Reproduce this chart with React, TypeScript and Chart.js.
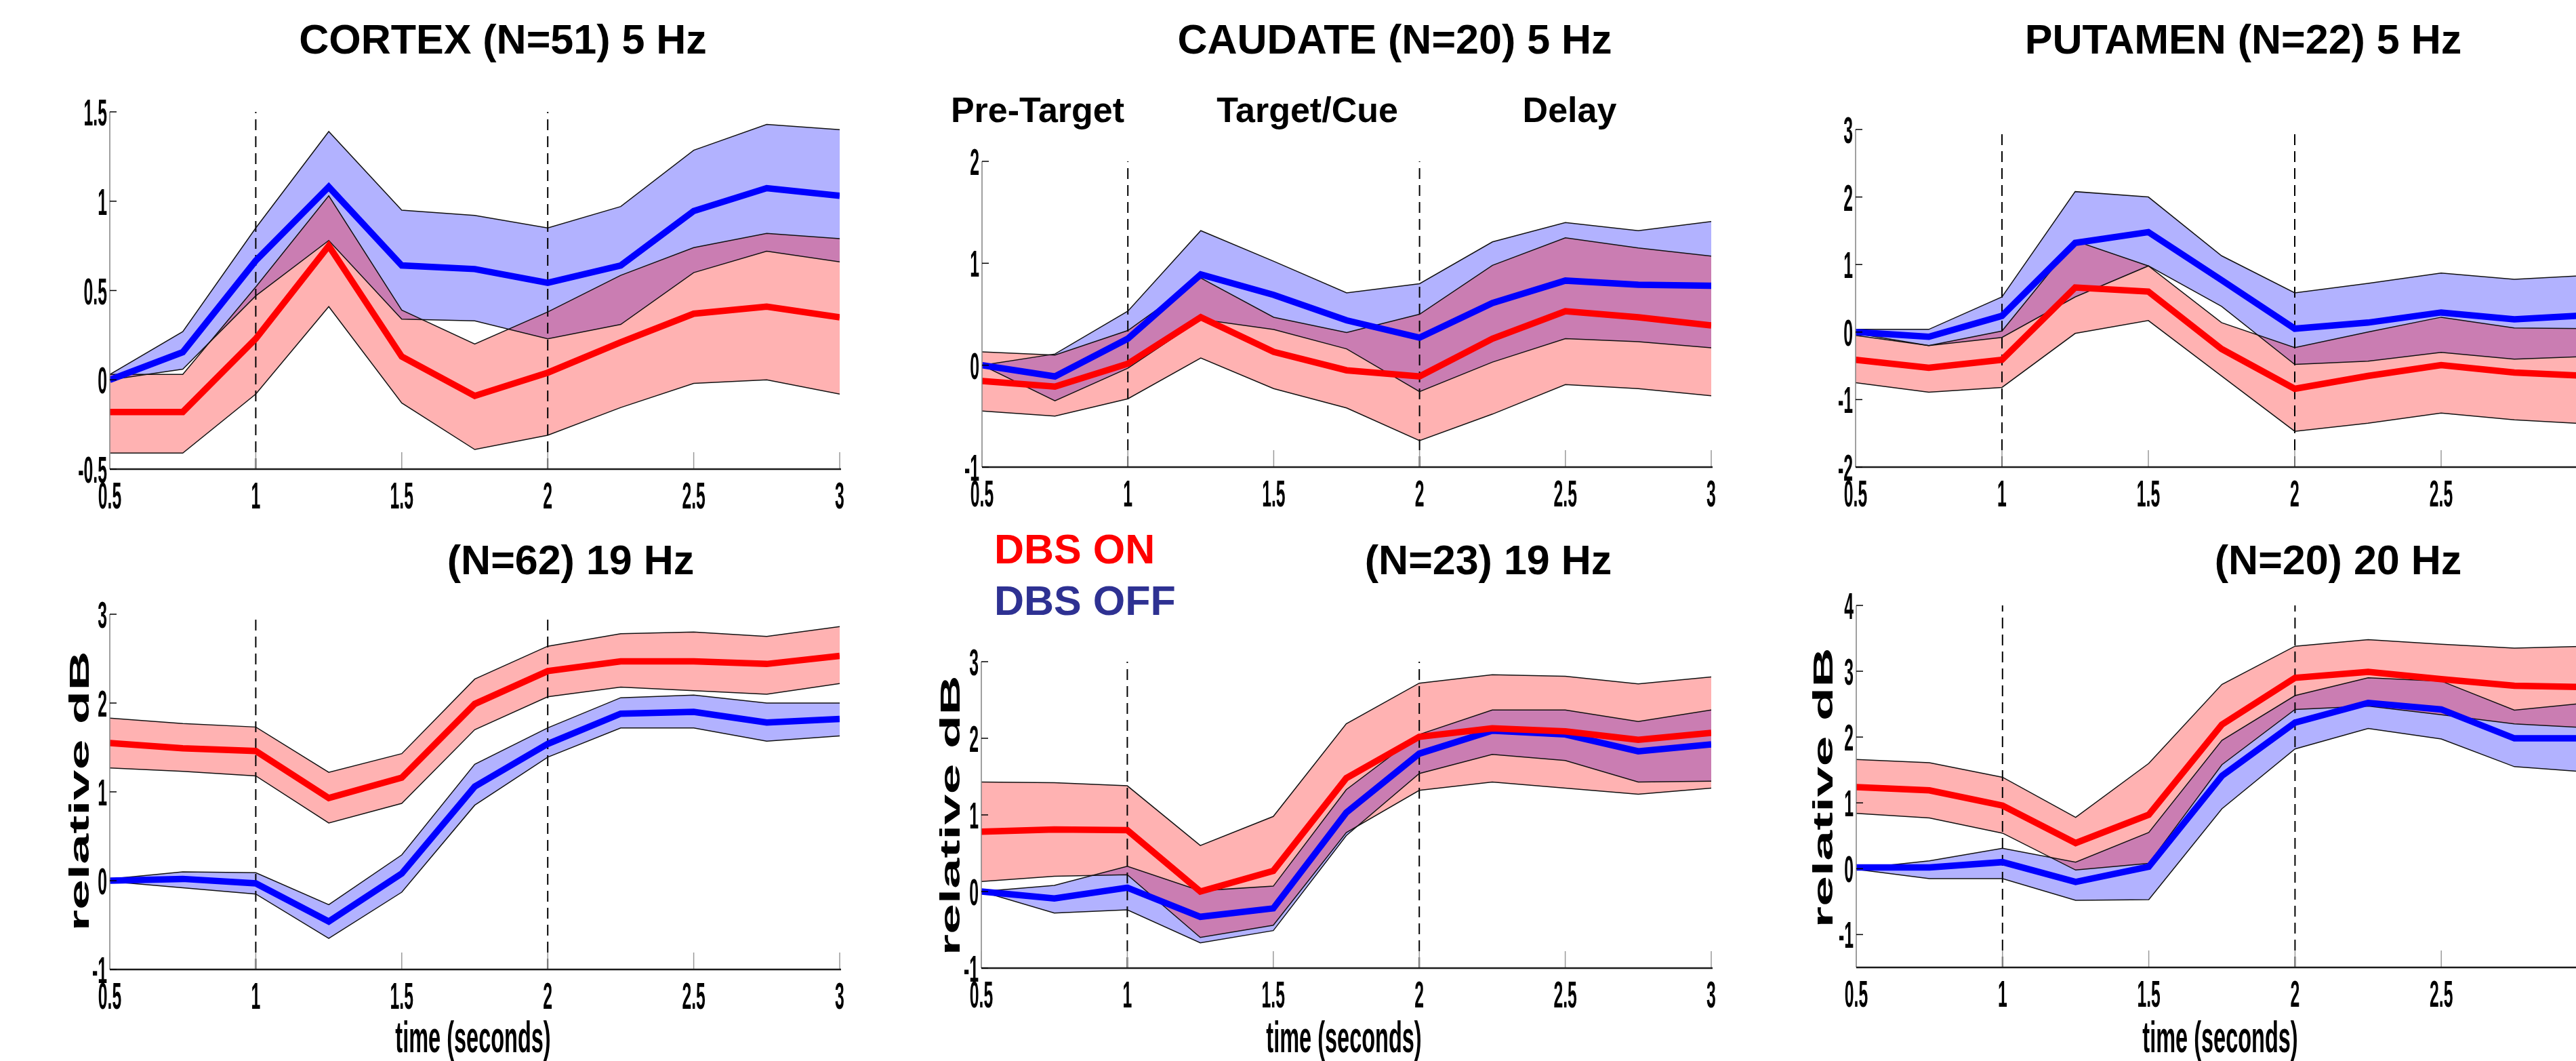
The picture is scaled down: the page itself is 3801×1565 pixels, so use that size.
import React, { useEffect, useRef } from "react";
import { Chart, registerables } from "chart.js";

Chart.register(...registerables);

// ---------------- DATA ----------------
const TIME = [0.5, 0.75, 1, 1.25, 1.5, 1.75, 2, 2.25, 2.5, 2.75, 3];
const X_TICKS = [0.5, 1, 1.5, 2, 2.5, 3];
const X_TICK_LABELS = ["0.5", "1", "1.5", "2", "2.5", "3"];
const EVENT_TIMES = [1, 2];

// Cortex 5 Hz
const CTX5_ON_MEAN = [-0.18, -0.18, 0.23, 0.75, 0.13, -0.09, 0.04, 0.21, 0.37, 0.41, 0.35];
const CTX5_ON_UPPER = [0.03, 0.03, 0.52, 1.03, 0.39, 0.2, 0.38, 0.585, 0.74, 0.82, 0.79];
const CTX5_ON_LOWER = [-0.41, -0.41, -0.08, 0.41, -0.13, -0.39, -0.31, -0.155, -0.02, 0, -0.08];
const CTX5_OFF_MEAN = [0, 0.155, 0.667, 1.08, 0.64, 0.62, 0.543, 0.64, 0.945, 1.073, 1.03];
const CTX5_OFF_UPPER = [0.03, 0.27, 0.85, 1.39, 0.95, 0.92, 0.85, 0.97, 1.285, 1.43, 1.4];
const CTX5_OFF_LOWER = [0, 0.06, 0.47, 0.78, 0.34, 0.33, 0.23, 0.31, 0.6, 0.72, 0.66];

// Caudate 5 Hz
const CAU5_ON_MEAN = [-0.155, -0.21, 0.015, 0.47, 0.13, -0.05, -0.11, 0.26, 0.53, 0.47, 0.39];
const CAU5_ON_UPPER = [0.13, 0.1, 0.34, 0.855, 0.47, 0.32, 0.5, 0.98, 1.25, 1.15, 1.07];
const CAU5_ON_LOWER = [-0.45, -0.5, -0.33, 0.07, -0.23, -0.42, -0.74, -0.48, -0.19, -0.23, -0.3];
const CAU5_OFF_MEAN = [0, -0.11, 0.26, 0.89, 0.69, 0.44, 0.27, 0.61, 0.83, 0.79, 0.78];
const CAU5_OFF_UPPER = [0, 0.11, 0.53, 1.32, 1.02, 0.71, 0.8, 1.21, 1.4, 1.32, 1.41];
const CAU5_OFF_LOWER = [0, -0.35, -0.03, 0.45, 0.35, 0.16, -0.26, 0.03, 0.26, 0.23, 0.17];

// Putamen 5 Hz
const PUT5_ON_MEAN = [-0.41, -0.53, -0.41, 0.66, 0.6, -0.25, -0.84, -0.65, -0.49, -0.6, -0.65];
const PUT5_ON_UPPER = [-0.05, -0.2, 0.015, 1.35, 0.98, 0.14, -0.23, 0.0, 0.22, 0.06, 0.05];
const PUT5_ON_LOWER = [-0.75, -0.89, -0.82, -0.02, 0.17, -0.65, -1.47, -1.35, -1.2, -1.3, -1.36];
const PUT5_OFF_MEAN = [0, -0.07, 0.24, 1.32, 1.48, 0.77, 0.05, 0.14, 0.29, 0.19, 0.25];
const PUT5_OFF_UPPER = [0.04, 0.04, 0.52, 2.08, 2.0, 1.13, 0.58, 0.72, 0.875, 0.78, 0.84];
const PUT5_OFF_LOWER = [-0.02, -0.2, -0.08, 0.52, 0.98, 0.38, -0.48, -0.43, -0.3, -0.4, -0.36];

// Cortex 19 Hz
const CTX19_ON_MEAN = [1.55, 1.49, 1.46, 0.93, 1.16, 1.99, 2.36, 2.47, 2.47, 2.44, 2.53];
const CTX19_ON_UPPER = [1.83, 1.77, 1.73, 1.22, 1.43, 2.27, 2.64, 2.78, 2.8, 2.75, 2.86];
const CTX19_ON_LOWER = [1.27, 1.23, 1.18, 0.65, 0.87, 1.7, 2.07, 2.18, 2.14, 2.1, 2.22];
const CTX19_OFF_MEAN = [0, 0.02, -0.03, -0.46, 0.08, 1.06, 1.54, 1.88, 1.9, 1.78, 1.82];
const CTX19_OFF_UPPER = [0.02, 0.1, 0.09, -0.27, 0.29, 1.31, 1.72, 2.06, 2.09, 2.0, 2.0];
const CTX19_OFF_LOWER = [-0.01, -0.08, -0.15, -0.65, -0.13, 0.85, 1.39, 1.72, 1.72, 1.57, 1.63];

// Caudate 19 Hz
const CAU19_ON_MEAN = [0.78, 0.81, 0.8, 0, 0.27, 1.48, 2.02, 2.13, 2.09, 1.98, 2.07];
const CAU19_ON_UPPER = [1.43, 1.42, 1.38, 0.6, 0.98, 2.19, 2.72, 2.83, 2.81, 2.71, 2.8];
const CAU19_ON_LOWER = [0.13, 0.2, 0.22, -0.6, -0.44, 0.77, 1.32, 1.43, 1.35, 1.27, 1.35];
const CAU19_OFF_MEAN = [0, -0.09, 0.05, -0.33, -0.22, 1.03, 1.8, 2.1, 2.05, 1.83, 1.92];
const CAU19_OFF_UPPER = [0, 0.08, 0.33, 0.01, 0.07, 1.33, 2.05, 2.37, 2.37, 2.22, 2.37];
const CAU19_OFF_LOWER = [0, -0.28, -0.24, -0.67, -0.51, 0.73, 1.54, 1.79, 1.71, 1.43, 1.44];

// Putamen 20 Hz
const PUT20_ON_MEAN = [1.24, 1.19, 0.96, 0.39, 0.82, 2.19, 2.9, 2.99, 2.88, 2.78, 2.76];
const PUT20_ON_UPPER = [1.66, 1.61, 1.39, 0.78, 1.6, 2.8, 3.38, 3.48, 3.41, 3.35, 3.38];
const PUT20_ON_LOWER = [0.84, 0.77, 0.54, -0.02, 0.08, 1.58, 2.42, 2.47, 2.34, 2.2, 2.14];
const PUT20_OFF_MEAN = [0.02, 0.02, 0.1, -0.2, 0.03, 1.41, 2.22, 2.52, 2.42, 1.98, 1.98];
const PUT20_OFF_UPPER = [0, 0.12, 0.31, 0.1, 0.55, 1.95, 2.63, 2.9, 2.85, 2.41, 2.52];
const PUT20_OFF_LOWER = [-0.01, -0.15, -0.15, -0.48, -0.47, 0.91, 1.82, 2.13, 1.97, 1.55, 1.47];

// y ticks
const Y_TICKS_CTX5 = [-0.5, 0, 0.5, 1, 1.5];
const Y_LABELS_CTX5 = ["-0.5", "0", "0.5", "1", "1.5"];
const Y_TICKS_CAU5 = [-1, 0, 1, 2];
const Y_LABELS_CAU5 = ["-1", "0", "1", "2"];
const Y_TICKS_PUT5 = [-2, -1, 0, 1, 2, 3];
const Y_LABELS_PUT5 = ["-2", "-1", "0", "1", "2", "3"];
const Y_TICKS_19 = [-1, 0, 1, 2, 3];
const Y_LABELS_19 = ["-1", "0", "1", "2", "3"];
const Y_TICKS_PUT20 = [-1, 0, 1, 2, 3, 4];
const Y_LABELS_PUT20 = ["-1", "0", "1", "2", "3", "4"];

const TITLES = [
  "CORTEX (N=51) 5 Hz",
  "CAUDATE (N=20) 5 Hz",
  "PUTAMEN (N=22) 5 Hz",
  "(N=62) 19 Hz",
  "(N=23) 19 Hz",
  "(N=20) 20 Hz",
];
const PHASES = ["Pre-Target", "Target/Cue", "Delay"];
const LEGEND = ["DBS ON", "DBS OFF"];

// ---------------- STYLE ----------------
const FONT = '"Liberation Sans", Arial, Helvetica, sans-serif';
const RED = "#ff0000";
const BLUE = "#0000ff";
const RED_FILL = "rgba(255,0,0,0.3)";
const BLUE_FILL = "rgba(0,0,255,0.3)";

type TextItem = {
  text: string;
  x: number; // page coords
  y: number;
  size: number;
  sx?: number;
  align?: CanvasTextAlign;
  color?: string;
  rotate?: boolean;
};

type Panel = {
  box: { x: number; y: number; w: number; h: number };
  area: { left: number; top: number; right: number; bottom: number };
  yMin: number;
  yMax: number;
  yTicks: number[];
  yLabels: string[];
  on: [number[], number[], number[]];
  off: [number[], number[], number[]];
  texts: TextItem[];
};

const ROW1 = { y: 0, h: 760 };
const ROW2 = { y: 760, h: 805 };
const COLS = [
  { x: 0, w: 1290 },
  { x: 1290, w: 1310 },
  { x: 2600, w: 1300 },
];

const TICK_FONT = 55;
const TICK_SX = 0.45;

function bottomTexts(title: string, titleX: number, xlabelX: number, ylabelX: number, ylabelY: number): TextItem[] {
  return [
    { text: title, x: titleX, y: 847, size: 61 },
    { text: "time (seconds)", x: xlabelX, y: 1552, size: 65, sx: 0.5 },
    { text: "relative dB", x: ylabelX, y: ylabelY, size: 41, sx: 1.97, rotate: true },
  ];
}

const PANELS: Panel[] = [
  {
    box: { x: COLS[0].x, y: ROW1.y, w: COLS[0].w, h: ROW1.h },
    area: { left: 162, top: 165, right: 1239, bottom: 692 },
    yMin: -0.5, yMax: 1.5, yTicks: Y_TICKS_CTX5, yLabels: Y_LABELS_CTX5,
    on: [CTX5_ON_MEAN, CTX5_ON_UPPER, CTX5_ON_LOWER],
    off: [CTX5_OFF_MEAN, CTX5_OFF_UPPER, CTX5_OFF_LOWER],
    texts: [{ text: TITLES[0], x: 742, y: 79, size: 61 }],
  },
  {
    box: { x: COLS[1].x, y: ROW1.y, w: COLS[1].w, h: ROW1.h },
    area: { left: 1449, top: 238, right: 2525, bottom: 689 },
    yMin: -1, yMax: 2, yTicks: Y_TICKS_CAU5, yLabels: Y_LABELS_CAU5,
    on: [CAU5_ON_MEAN, CAU5_ON_UPPER, CAU5_ON_LOWER],
    off: [CAU5_OFF_MEAN, CAU5_OFF_UPPER, CAU5_OFF_LOWER],
    texts: [
      { text: TITLES[1], x: 2058, y: 79, size: 61 },
      { text: PHASES[0], x: 1531, y: 180, size: 52 },
      { text: PHASES[1], x: 1929, y: 180, size: 52 },
      { text: PHASES[2], x: 2316, y: 180, size: 52 },
    ],
  },
  {
    box: { x: COLS[2].x, y: ROW1.y, w: COLS[2].w, h: ROW1.h },
    area: { left: 2738, top: 191, right: 3818, bottom: 689 },
    yMin: -2, yMax: 3, yTicks: Y_TICKS_PUT5, yLabels: Y_LABELS_PUT5,
    on: [PUT5_ON_MEAN, PUT5_ON_UPPER, PUT5_ON_LOWER],
    off: [PUT5_OFF_MEAN, PUT5_OFF_UPPER, PUT5_OFF_LOWER],
    texts: [{ text: TITLES[2], x: 3310, y: 79, size: 61 }],
  },
  {
    box: { x: COLS[0].x, y: ROW2.y, w: COLS[0].w, h: ROW2.h },
    area: { left: 162, top: 906, right: 1239, bottom: 1430 },
    yMin: -1, yMax: 3, yTicks: Y_TICKS_19, yLabels: Y_LABELS_19,
    on: [CTX19_ON_MEAN, CTX19_ON_UPPER, CTX19_ON_LOWER],
    off: [CTX19_OFF_MEAN, CTX19_OFF_UPPER, CTX19_OFF_LOWER],
    texts: bottomTexts(TITLES[3], 842, 698, 131, 1167),
  },
  {
    box: { x: COLS[1].x, y: ROW2.y, w: COLS[1].w, h: ROW2.h },
    area: { left: 1448, top: 976, right: 2525, bottom: 1428 },
    yMin: -1, yMax: 3, yTicks: Y_TICKS_19, yLabels: Y_LABELS_19,
    on: [CAU19_ON_MEAN, CAU19_ON_UPPER, CAU19_ON_LOWER],
    off: [CAU19_OFF_MEAN, CAU19_OFF_UPPER, CAU19_OFF_LOWER],
    texts: [
      ...bottomTexts(TITLES[4], 2196, 1983, 1416, 1203),
      { text: LEGEND[0], x: 1467, y: 831, size: 61, align: "left", color: RED },
      { text: LEGEND[1], x: 1467, y: 907, size: 61, align: "left", color: "#2e3192" },
    ],
  },
  {
    box: { x: COLS[2].x, y: ROW2.y, w: COLS[2].w, h: ROW2.h },
    area: { left: 2739, top: 893, right: 3818, bottom: 1427 },
    yMin: -1.5, yMax: 4, yTicks: Y_TICKS_PUT20, yLabels: Y_LABELS_PUT20,
    on: [PUT20_ON_MEAN, PUT20_ON_UPPER, PUT20_ON_LOWER],
    off: [PUT20_OFF_MEAN, PUT20_OFF_UPPER, PUT20_OFF_LOWER],
    texts: bottomTexts(TITLES[5], 3450, 3276, 2704, 1162),
  },
];

function drawText(ctx: CanvasRenderingContext2D, t: TextItem, ox: number, oy: number) {
  ctx.save();
  ctx.translate(t.x - ox, t.y - oy);
  if (t.rotate) ctx.rotate(-Math.PI / 2);
  ctx.scale(t.sx ?? 1, 1);
  ctx.font = `bold ${t.size}px ${FONT}`;
  ctx.fillStyle = t.color ?? "#000";
  ctx.textAlign = t.align ?? "center";
  ctx.textBaseline = "alphabetic";
  ctx.fillText(t.text, 0, 0);
  ctx.restore();
}

function makeDecor(p: Panel) {
  return {
    id: "decor",
    afterDraw(chart: any) {
      const { ctx, chartArea: a } = chart;
      const xs = chart.scales.x;
      const ys = chart.scales.y;
      ctx.save();
      // y axis line
      ctx.strokeStyle = "#808080";
      ctx.lineWidth = 1.5;
      ctx.beginPath();
      ctx.moveTo(a.left, ys.getPixelForValue(p.yMax));
      ctx.lineTo(a.left, a.bottom);
      ctx.stroke();
      // x ticks (inward, grey)
      X_TICKS.forEach((v, i) => {
        const px = xs.getPixelForValue(v);
        ctx.strokeStyle = "#9a9a9a";
        ctx.lineWidth = 1.5;
        ctx.beginPath();
        ctx.moveTo(px, a.bottom);
        ctx.lineTo(px, a.bottom - 25);
        ctx.stroke();
        ctx.save();
        ctx.translate(px, a.bottom + 58);
        ctx.scale(TICK_SX, 1);
        ctx.font = `bold ${TICK_FONT}px ${FONT}`;
        ctx.fillStyle = "#000";
        ctx.textAlign = "center";
        ctx.textBaseline = "alphabetic";
        ctx.fillText(X_TICK_LABELS[i], 0, 0);
        ctx.restore();
      });
      // x axis line
      ctx.strokeStyle = "#1a1a1a";
      ctx.lineWidth = 2.5;
      ctx.beginPath();
      ctx.moveTo(a.left, a.bottom);
      ctx.lineTo(a.right + 2, a.bottom);
      ctx.stroke();
      // y ticks
      p.yTicks.forEach((v, i) => {
        const py = ys.getPixelForValue(v);
        ctx.strokeStyle = "#000";
        ctx.lineWidth = 1.5;
        ctx.beginPath();
        ctx.moveTo(a.left, py);
        ctx.lineTo(a.left + 10, py);
        ctx.stroke();
        ctx.save();
        ctx.translate(a.left - 4, py + 20);
        ctx.scale(TICK_SX, 1);
        ctx.font = `bold ${TICK_FONT}px ${FONT}`;
        ctx.fillStyle = "#000";
        ctx.textAlign = "right";
        ctx.textBaseline = "alphabetic";
        ctx.fillText(p.yLabels[i], 0, 0);
        ctx.restore();
      });
      // texts
      p.texts.forEach((t) => drawText(ctx, t, p.box.x, p.box.y));
      ctx.restore();
    },
  };
}

function PanelChart({ p }: { p: Panel }) {
  const ref = useRef<HTMLCanvasElement>(null);
  useEffect(() => {
    const canvas = ref.current!;
    const pts = (ys: number[]) => TIME.map((t, i) => ({ x: t, y: ys[i] }));
    const edge = (ys: number[], fill: any, bg?: string) => ({
      data: pts(ys),
      borderColor: "#111",
      borderWidth: 1.5,
      fill,
      backgroundColor: bg ?? "transparent",
    });
    const eventLine = (t: number) => ({
      data: [
        { x: t, y: p.yMin },
        { x: t, y: p.yMax },
      ],
      borderColor: "#000",
      borderWidth: 2,
      borderDash: [16, 9],
      fill: false,
    });
    const chart = new Chart(canvas, {
      type: "line",
      data: {
        datasets: [
          { data: pts(p.on[0]), borderColor: RED, borderWidth: 9.5, fill: false },
          { data: pts(p.off[0]), borderColor: BLUE, borderWidth: 9.5, fill: false },
          edge(p.on[1], "+1", RED_FILL),
          edge(p.on[2], false),
          edge(p.off[1], "+1", BLUE_FILL),
          edge(p.off[2], false),
          ...EVENT_TIMES.map(eventLine),
        ] as any,
      },
      options: {
        responsive: false,
        animation: false,
        devicePixelRatio: 1,
        layout: {
          padding: {
            left: p.area.left - p.box.x,
            top: p.area.top - p.box.y,
            right: p.box.x + p.box.w - p.area.right,
            bottom: p.box.y + p.box.h - p.area.bottom,
          },
        },
        scales: {
          x: { type: "linear", min: 0.5, max: 3, display: false },
          y: { type: "linear", min: p.yMin, max: p.yMax, display: false },
        },
        elements: {
          point: { radius: 0 },
          line: { tension: 0, borderJoinStyle: "miter", borderCapStyle: "butt" },
        },
        plugins: {
          legend: { display: false },
          tooltip: { enabled: false },
          title: { display: false },
          filler: { drawTime: "beforeDatasetsDraw" },
        },
      } as any,
      plugins: [makeDecor(p)],
    });
    return () => chart.destroy();
  }, [p]);
  return (
    <canvas
      ref={ref}
      width={p.box.w}
      height={p.box.h}
      style={{ position: "absolute", left: p.box.x, top: p.box.y, width: p.box.w, height: p.box.h }}
    />
  );
}

export default function App() {
  return (
    <div
      style={{
        position: "absolute",
        left: 0,
        top: 0,
        width: 3801,
        height: 1565,
        overflow: "hidden",
        background: "#fff",
      }}
    >
      {PANELS.map((p, i) => (
        <PanelChart key={i} p={p} />
      ))}
    </div>
  );
}
